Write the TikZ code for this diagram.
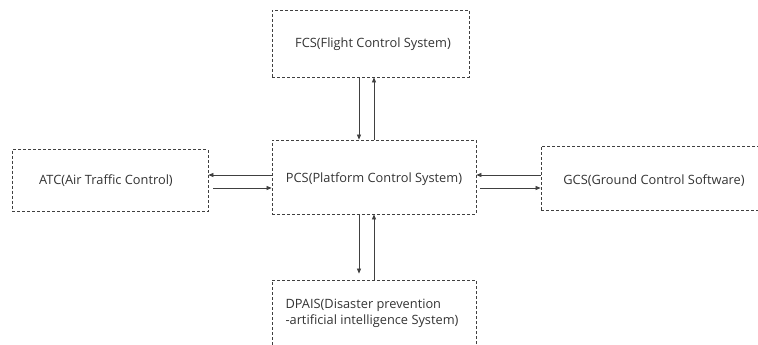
\documentclass[tikz,border=0pt]{standalone}
\usepackage{fontspec}
\setmainfont{Open Sans}
\usetikzlibrary{arrows.meta}
\begin{document}
\begin{tikzpicture}[x=1pt,y=-1pt,
  box/.style={draw=black!75, line width=0.8pt, dash pattern=on 3pt off 2pt, inner sep=0pt, rectangle},
  lbl/.style={font=\fontsize{12.8}{16}\selectfont, text=black!80},
  arr/.style={draw=black!75, line width=0.7pt, -{Triangle[length=5pt,width=4pt]}}]
\useasboundingbox (0,0) rectangle (758,345);
\clip (0,0) rectangle (758,345);
% boxes (defined by corners)
\node[box, minimum width=197pt, minimum height=67pt] (fcs) at (370.5,43.5) {};
\node[box, minimum width=196pt, minimum height=62pt] (atc) at (110,180.5) {};
\node[box, minimum width=204pt, minimum height=74pt] (pcs) at (374,177) {};
\node[box, minimum width=230pt, minimum height=64pt] (gcs) at (656,178) {};
\node[box, minimum width=204pt, minimum height=80pt] (dp) at (374,320) {};
% labels
\node[lbl] (tfcs) at (373,44) {FCS(Flight Control System)};
\node[lbl] (tatc) at (106,181) {ATC(Air Traffic Control)};
\node[lbl] (tpcs) at (374,179) {PCS(Platform Control System)};
\node[lbl] (tgcs) at (654,181) {GCS(Ground Control Software)};
\node[lbl, anchor=west, align=left] (tdp) at (282,313) {DPAIS(Disaster prevention\\-artificial intelligence System)};
% connectors
\draw[arr] (fcs.south -| 359,0) -- (pcs.north -| 359,0);
\draw[arr] (pcs.north -| 374,0) -- (fcs.south -| 374,0);
\draw[arr, shorten >=6pt] (pcs.south -| 359,0) -- (dp.north -| 359,0);
\draw[arr] (dp.north -| 374,0) -- (pcs.south -| 374,0);
\draw[arr] (pcs.west |- 0,175) -- (atc.east |- 0,175);
\draw[arr, shorten <=5pt] (atc.east |- 0,188) -- (pcs.west |- 0,188);
\draw[arr] (gcs.west |- 0,175) -- (pcs.east |- 0,175);
\draw[arr, shorten <=4pt] (pcs.east |- 0,188) -- (gcs.west |- 0,188);
\end{tikzpicture}
\end{document}
